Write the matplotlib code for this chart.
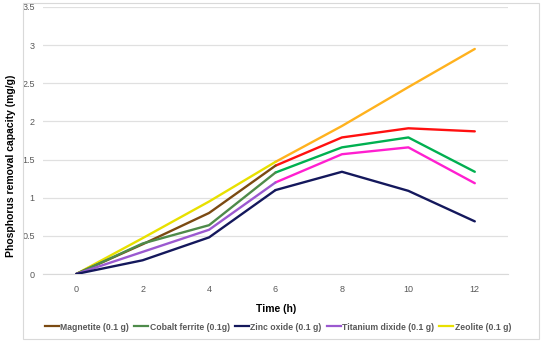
import matplotlib
matplotlib.use("Agg")
import matplotlib.pyplot as plt
from matplotlib.patches import Rectangle
from matplotlib.lines import Line2D

plt.rcParams["font.family"] = ["Liberation Sans", "DejaVu Sans"]

time = [0, 2, 4, 6, 8, 10, 12]
names = ["Magnetite (0.1 g)", "Cobalt ferrite (0.1g)", "Zinc oxide (0.1 g)",
         "Titanium dixide (0.1 g)", "Zeolite (0.1 g)"]
magnetite = [0, 0.39, 0.80, 1.42, 1.79, 1.91, 1.87]
cobalt = [0, 0.40, 0.64, 1.33, 1.66, 1.79, 1.34]
zinc = [0, 0.18, 0.48, 1.10, 1.34, 1.09, 0.69]
titanium = [0, 0.29, 0.58, 1.20, 1.57, 1.66, 1.19]
zeolite = [0, 0.47, 0.95, 1.47, 1.94, 2.45, 2.95]
series = [magnetite, cobalt, zinc, titanium, zeolite]
col_early = ["#7B4A12", "#4E8B4A", "#14185C", "#9B59D0", "#E8E000"]
col_late = ["#FF1010", "#00B050", "#14185C", "#FF1FD0", "#FFB21E"]

fig = plt.figure(figsize=(5.5, 3.43), dpi=100)
fig.patches.append(Rectangle((23/550, 1-339/343), (539-23)/550, (339-3)/343,
                             transform=fig.transFigure, fill=False,
                             edgecolor="#d9d9d9", linewidth=0.8))
ax = fig.add_axes([43/550, 1-274/343, (508-43)/550, (274-7)/343])

order = [4, 0, 1, 3, 2]
for i in order:
    ys = series[i]
    ax.plot(time[3:], ys[3:], color=col_late[i], lw=1.7, solid_capstyle="round", zorder=3)
for i in order:
    ys = series[i]
    ax.plot(time[:4], ys[:4], color=col_early[i], lw=1.7, solid_capstyle="round", zorder=4)

ax.set_xlim(-1, 13)
ax.set_ylim(0, 3.5)
ax.set_xticks(time)
ax.set_yticks([0, 0.5, 1, 1.5, 2, 2.5, 3, 3.5])
ax.set_yticklabels(["0", "0.5", "1", "1.5", "2", "2.5", "3", "3.5"])
ax.grid(axis="y", color="#e0e0e0", lw=0.9)
ax.set_axisbelow(True)
for s in ["top", "right", "left"]:
    ax.spines[s].set_visible(False)
ax.spines["bottom"].set_color("#d9d9d9")
ax.tick_params(length=0, labelsize=6.5, colors="#595959")
ax.tick_params(axis="x", pad=8)
ax.tick_params(axis="y", pad=6)

fig.text(11/550, 1-166/343, "Phosphorus removal capacity (mg/g)", rotation=90,
         ha="center", va="center", fontsize=7.5, fontweight="bold")
fig.text(276/550, 1-309/343, "Time (h)", ha="center", va="center",
         fontsize=7.5, fontweight="bold")

handles = [Line2D([0], [0], color=c, lw=1.6) for c in col_early]
fig.legend(handles, names, loc="center", bbox_to_anchor=(278/550, 1-327/343),
           ncol=5, frameon=False, handlelength=1.6,
           handletextpad=0.2, columnspacing=0.6, labelcolor="#595959",
           prop={"family": ["Liberation Sans"], "weight": "bold", "size": 6.2})

fig.savefig("out.png", dpi=100)
